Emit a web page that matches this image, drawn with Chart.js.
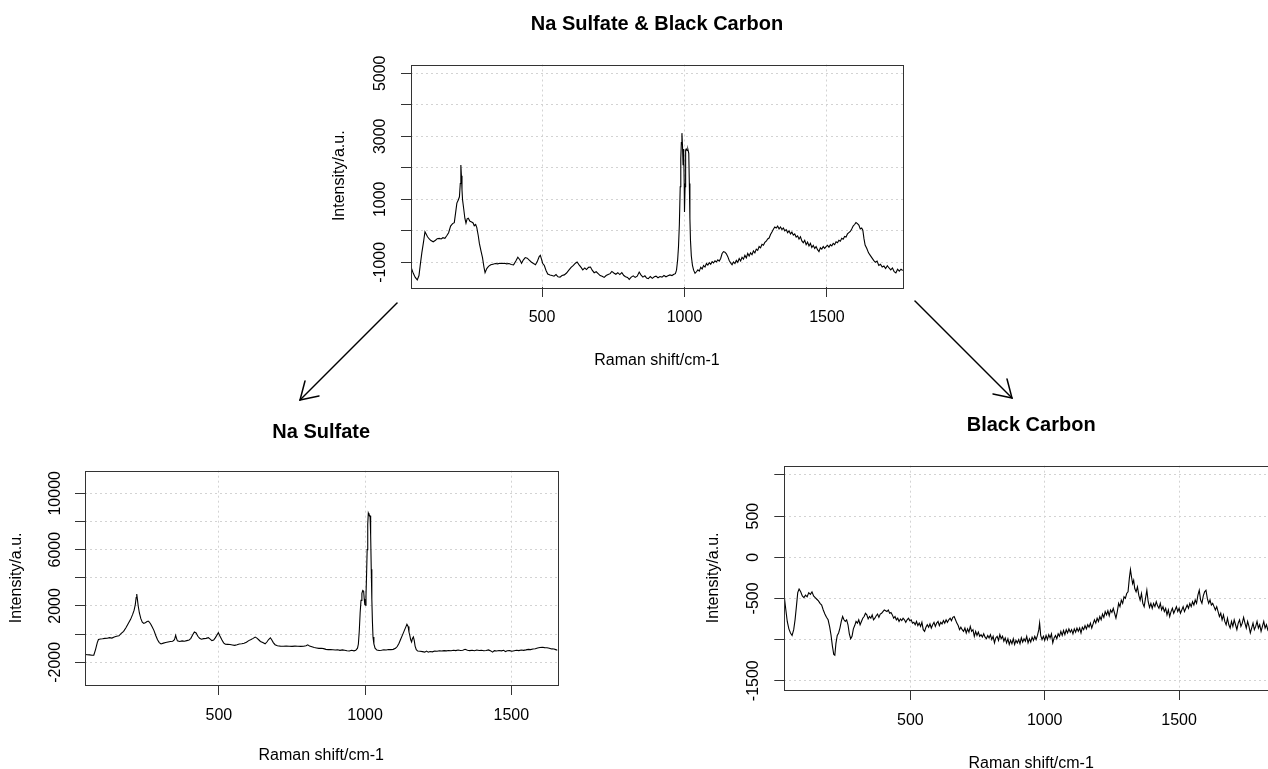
<!DOCTYPE html>
<html>
<head>
<meta charset="utf-8">
<title>Na Sulfate &amp; Black Carbon</title>
<script src="https://cdn.jsdelivr.net/npm/chart.js@4.4.1/dist/chart.umd.min.js"></script>
<style>
  html, body { margin: 0; padding: 0; background: #fff; width: 1268px; height: 769px; overflow: hidden; }
  canvas { position: absolute; }
  #arrows { position: absolute; left: 0; top: 0; }
</style>
</head>
<body>
<canvas id="mix" width="600" height="370" style="left:320px; top:0px"></canvas>
<canvas id="sulfate" width="575" height="365" style="left:0px; top:400px"></canvas>
<canvas id="carbon" width="605" height="383" style="left:690px; top:390px"></canvas>
<svg id="arrows" width="1268" height="769">
  <g stroke="#000" stroke-width="1.5" fill="none" stroke-linecap="round">
    <line x1="397" y1="303" x2="300" y2="400"/>
    <polyline points="305,381 300,400 319,396"/>
    <line x1="915" y1="301" x2="1012" y2="398"/>
    <polyline points="1007,379 1012,398 993,394"/>
  </g>
</svg>
<script>
// spectra: [Raman shift, intensity]
var mixSpectrum = [
  [40,-1150],[48,-1350],[55,-1480],[62,-1560],[68,-1420],[73,-1050],[78,-700],[84,-350],[89,-30],[94,-120],
  [98,-190],[104,-260],[110,-310],[118,-350],[126,-300],[132,-250],[139,-240],[146,-260],[152,-220],[159,-240],
  [166,-150],[172,-60],[179,150],[186,230],[192,260],[197,600],[201,880],[206,980],[210,1080],[213,1500],
  [215,2090],[217,1750],[219,1300],[221,980],[225,700],[229,400],[233,240],[237,380],[241,400],[247,300],
  [253,280],[258,250],[262,160],[267,200],[271,100],[276,-150],[280,-400],[286,-650],[291,-850],[296,-1150],
  [300,-1330],[306,-1200],[312,-1130],[320,-1080],[328,-1060],[336,-1040],[344,-1050],[352,-1030],[360,-1040],[368,-1030],
  [376,-1050],[384,-1040],[392,-1070],[400,-1080],[408,-960],[415,-840],[422,-920],[428,-1030],[434,-930],[441,-850],
  [448,-870],[455,-930],[462,-990],[470,-1040],[477,-1080],[484,-960],[490,-820],[494,-780],[498,-900],[502,-1030],
  [508,-1100],[514,-1260],[520,-1370],[528,-1400],[535,-1420],[542,-1440],[549,-1390],[556,-1460],[563,-1470],[570,-1420],
  [578,-1400],[586,-1340],[594,-1250],[602,-1160],[610,-1100],[617,-1030],[623,-990],[630,-1080],[637,-1160],[643,-1240],
  [650,-1180],[656,-1230],[663,-1160],[670,-1150],[676,-1250],[683,-1330],[690,-1300],[697,-1360],[704,-1420],[711,-1440],
  [718,-1480],[725,-1420],[732,-1390],[739,-1360],[745,-1290],[752,-1340],[759,-1380],[766,-1330],[773,-1390],[780,-1330],
  [787,-1420],[793,-1460],[800,-1480],[806,-1540],[813,-1470],[820,-1430],[827,-1480],[834,-1440],[841,-1310],[847,-1400],
  [854,-1470],[861,-1430],[867,-1500],[873,-1520],[880,-1450],[887,-1510],[894,-1460],[900,-1440],[907,-1490],[914,-1450],
  [921,-1470],[928,-1420],[935,-1460],[942,-1430],[949,-1400],[956,-1420],[963,-1380],[968,-1360],[972,-1250],[976,-920],
  [979,-500],[982,200],[985,1400],[987,2300],[989,2800],[991,3100],[993,2700],[995,2100],[997,2600],[999,1500],
  [1000,600],[1002,1400],[1004,2560],[1006,2600],[1009,2550],[1012,2580],[1015,2460],[1017,1500],[1019,400],[1021,-300],
  [1024,-800],[1028,-1100],[1032,-1250],[1037,-1350],[1042,-1300],[1047,-1240],[1052,-1280],[1057,-1160],[1062,-1210],[1067,-1100],
  [1072,-1150],[1077,-1040],[1082,-1090],[1087,-1010],[1092,-1060],[1097,-980],[1102,-1020],[1107,-950],[1112,-990],[1117,-920],
  [1122,-960],[1127,-880],[1132,-720],[1137,-660],[1142,-680],[1147,-730],[1152,-820],[1157,-940],[1162,-1020],[1167,-1080],
  [1172,-990],[1177,-1040],[1182,-940],[1187,-1000],[1192,-880],[1197,-960],[1202,-840],[1207,-900],[1212,-780],[1217,-860],
  [1222,-720],[1227,-800],[1232,-700],[1237,-760],[1242,-640],[1247,-700],[1252,-580],[1257,-620],[1262,-500],[1267,-540],
  [1272,-430],[1277,-460],[1282,-370],[1287,-330],[1292,-260],[1297,-230],[1302,-120],[1307,-40],[1312,50],[1317,120],
  [1322,90],[1327,150],[1332,60],[1337,120],[1342,40],[1347,90],[1352,0],[1357,40],[1362,-60],[1367,0],
  [1372,-100],[1377,-40],[1382,-140],[1387,-100],[1392,-200],[1397,-160],[1402,-260],[1407,-190],[1412,-320],[1417,-380],
  [1422,-300],[1427,-440],[1432,-360],[1437,-480],[1442,-400],[1447,-530],[1452,-460],[1457,-560],[1462,-500],[1467,-600],
  [1472,-660],[1477,-540],[1482,-580],[1487,-500],[1492,-560],[1497,-500],[1502,-460],[1507,-520],[1512,-440],[1517,-480],
  [1522,-400],[1527,-440],[1532,-350],[1537,-380],[1542,-300],[1547,-330],[1552,-240],[1557,-270],[1562,-180],[1567,-200],
  [1572,-100],[1577,-60],[1582,-20],[1587,60],[1592,150],[1597,200],[1602,260],[1607,230],[1612,180],[1617,60],
  [1622,90],[1626,20],[1630,-250],[1634,-450],[1640,-560],[1646,-700],[1652,-780],[1658,-860],[1664,-940],[1670,-1000],
  [1676,-960],[1682,-1100],[1688,-1060],[1694,-1150],[1700,-1120],[1706,-1200],[1712,-1110],[1718,-1180],[1724,-1240],[1730,-1180],
  [1736,-1300],[1742,-1340],[1748,-1220],[1754,-1280],[1760,-1220],[1766,-1260]
];

var sulfateSpectrum = [
  [42,-1450],[50,-1460],[58,-1470],[66,-1500],[72,-1490],[78,-1100],[84,-600],[88,-380],[95,-350],[102,-330],
  [110,-300],[118,-290],[126,-250],[134,-280],[142,-200],[150,-150],[158,-120],[166,50],[174,200],[182,450],
  [190,750],[198,1050],[205,1400],[210,1700],[214,2100],[217,2600],[219,2850],[221,2500],[224,2000],[228,1500],
  [233,1100],[238,850],[243,760],[248,800],[253,880],[258,930],[262,860],[267,700],[272,500],[278,250],
  [284,-100],[290,-400],[296,-600],[302,-700],[310,-640],[318,-600],[326,-560],[334,-520],[342,-500],[348,-400],
  [352,-80],[355,-300],[358,-480],[366,-520],[374,-480],[382,-500],[390,-460],[398,-420],[404,-300],[410,-60],
  [416,150],[422,80],[428,-150],[434,-300],[440,-360],[448,-320],[456,-300],[464,-250],[470,-350],[476,-460],
  [482,-420],[488,-250],[494,-40],[498,100],[503,-120],[510,-400],[516,-620],[522,-720],[530,-730],[538,-740],
  [546,-770],[554,-800],[562,-760],[570,-700],[578,-680],[586,-650],[594,-580],[602,-460],[610,-380],[617,-300],
  [624,-210],[630,-280],[636,-400],[642,-520],[650,-600],[658,-690],[664,-560],[670,-380],[676,-260],[681,-420],
  [686,-600],[692,-750],[700,-820],[710,-850],[720,-860],[730,-850],[740,-860],[750,-870],[760,-850],[770,-860],
  [780,-870],[790,-860],[798,-830],[804,-760],[810,-850],[818,-900],[826,-950],[834,-980],[842,-1010],[850,-1000],
  [858,-1030],[866,-1080],[874,-1100],[882,-1090],[890,-1110],[898,-1130],[906,-1110],[914,-1150],[922,-1120],[930,-1140],
  [938,-1180],[946,-1200],[954,-1150],[962,-1190],[968,-1150],[974,-1000],[977,-700],[980,200],[983,1500],[986,2400],
  [989,2900],[992,3100],[995,3050],[997,2500],[999,2100],[1001,2050],[1003,2700],[1005,4200],[1007,6000],[1009,7800],
  [1011,8600],[1013,8500],[1015,8450],[1017,8400],[1019,7000],[1021,4600],[1023,2500],[1025,900],[1027,-200],[1030,-700],
  [1034,-1000],[1040,-1130],[1048,-1160],[1056,-1150],[1064,-1110],[1072,-1130],[1080,-1090],[1088,-1100],[1096,-1080],[1104,-1000],
  [1110,-880],[1116,-650],[1122,-350],[1128,-50],[1134,250],[1139,500],[1143,700],[1147,550],[1150,150],[1153,-100],
  [1156,-400],[1159,-550],[1162,-300],[1165,-200],[1168,-450],[1171,-850],[1175,-1100],[1180,-1200],[1188,-1210],[1196,-1240],
  [1204,-1280],[1210,-1200],[1216,-1280],[1222,-1230],[1230,-1260],[1238,-1200],[1246,-1220],[1254,-1180],[1262,-1200],[1270,-1170],
  [1278,-1190],[1286,-1160],[1294,-1180],[1302,-1150],[1310,-1170],[1318,-1130],[1326,-1160],[1334,-1140],[1342,-1080],[1350,-1150],
  [1358,-1170],[1366,-1140],[1374,-1180],[1382,-1130],[1390,-1160],[1398,-1140],[1406,-1180],[1414,-1160],[1422,-1120],[1430,-1190],
  [1436,-1280],[1442,-1170],[1450,-1200],[1458,-1160],[1466,-1190],[1474,-1150],[1480,-1240],[1486,-1180],[1494,-1170],[1502,-1210],
  [1510,-1180],[1518,-1150],[1526,-1170],[1534,-1130],[1542,-1150],[1550,-1120],[1558,-1080],[1566,-1100],[1574,-1060],[1582,-1040],
  [1590,-980],[1598,-950],[1606,-930],[1614,-960],[1622,-970],[1630,-1000],[1638,-1050],[1646,-1060],[1652,-1100],[1658,-1140]
];

var carbonSpectrum = [
  [31,-480],[36,-620],[42,-780],[48,-870],[54,-920],[60,-950],[66,-880],[71,-760],[76,-600],[81,-430],
  [86,-385],[92,-420],[98,-470],[104,-490],[110,-460],[116,-480],[122,-430],[128,-450],[134,-420],[140,-470],
  [146,-490],[152,-510],[158,-530],[164,-560],[170,-580],[176,-640],[182,-690],[188,-730],[194,-760],[200,-850],
  [205,-950],[210,-1080],[215,-1180],[219,-1190],[223,-1050],[228,-950],[233,-920],[238,-860],[243,-780],[248,-720],
  [253,-760],[258,-780],[263,-760],[268,-820],[273,-930],[278,-990],[283,-960],[288,-870],[293,-830],[298,-780],
  [303,-800],[308,-760],[313,-820],[318,-780],[323,-740],[328,-720],[333,-680],[338,-700],[343,-750],[348,-720],
  [353,-740],[358,-700],[363,-760],[368,-740],[373,-710],[378,-690],[383,-730],[388,-690],[393,-680],[398,-660],
  [403,-640],[408,-650],[413,-660],[418,-640],[423,-680],[428,-670],[433,-700],[438,-740],[443,-720],[448,-760],
  [453,-740],[458,-780],[463,-750],[468,-770],[473,-740],[478,-760],[483,-790],[488,-760],[493,-740],[498,-770],
  [503,-760],[508,-800],[513,-790],[518,-820],[523,-780],[528,-830],[533,-800],[538,-840],[543,-790],[548,-880],
  [553,-900],[558,-850],[563,-820],[568,-850],[573,-810],[578,-860],[583,-820],[588,-790],[593,-840],[598,-800],
  [603,-780],[608,-830],[613,-790],[618,-810],[623,-770],[628,-800],[633,-760],[638,-790],[643,-760],[648,-740],
  [653,-770],[658,-730],[663,-720],[668,-760],[673,-800],[678,-830],[683,-880],[688,-850],[693,-880],[698,-900],
  [703,-860],[708,-920],[713,-870],[718,-910],[723,-840],[728,-900],[733,-880],[738,-960],[743,-900],[748,-950],
  [753,-910],[758,-960],[763,-940],[768,-970],[773,-930],[778,-970],[783,-990],[788,-950],[793,-980],[798,-940],
  [803,-1000],[808,-960],[813,-1040],[818,-980],[823,-960],[828,-1010],[833,-940],[838,-990],[843,-960],[848,-1020],
  [853,-980],[858,-1040],[863,-990],[868,-1060],[873,-1010],[878,-1050],[883,-990],[888,-1060],[893,-1010],[898,-1040],
  [903,-1000],[908,-1050],[913,-980],[918,-1030],[923,-990],[928,-1020],[933,-960],[938,-1040],[943,-990],[948,-1030],
  [953,-970],[958,-1010],[963,-960],[968,-1000],[973,-950],[978,-880],[981,-800],[985,-950],[990,-1000],[995,-960],
  [1000,-1010],[1005,-950],[1010,-1000],[1015,-940],[1020,-980],[1025,-930],[1030,-1040],[1035,-980],[1040,-950],[1045,-990],
  [1050,-930],[1055,-960],[1060,-900],[1065,-950],[1070,-890],[1075,-940],[1080,-880],[1085,-920],[1090,-870],[1095,-910],
  [1100,-880],[1105,-930],[1110,-870],[1115,-910],[1120,-860],[1125,-900],[1130,-860],[1135,-920],[1140,-850],[1145,-880],
  [1150,-830],[1155,-870],[1160,-820],[1165,-850],[1170,-800],[1175,-860],[1180,-810],[1185,-760],[1190,-800],[1195,-740],
  [1200,-780],[1205,-720],[1210,-760],[1215,-690],[1220,-730],[1225,-660],[1230,-700],[1235,-650],[1240,-710],[1245,-640],
  [1250,-670],[1255,-620],[1260,-680],[1265,-740],[1270,-660],[1275,-560],[1280,-600],[1285,-520],[1290,-560],[1295,-480],
  [1300,-500],[1305,-440],[1310,-420],[1315,-250],[1319,-150],[1323,-240],[1327,-320],[1331,-280],[1335,-380],[1340,-420],
  [1345,-360],[1350,-460],[1355,-520],[1360,-440],[1365,-560],[1370,-600],[1375,-500],[1380,-400],[1385,-540],[1390,-610],
  [1395,-560],[1400,-620],[1405,-560],[1410,-600],[1415,-540],[1420,-590],[1425,-620],[1430,-560],[1435,-640],[1440,-600],
  [1445,-660],[1450,-620],[1455,-700],[1460,-640],[1465,-720],[1470,-660],[1475,-620],[1480,-680],[1485,-640],[1490,-600],
  [1495,-660],[1500,-620],[1505,-680],[1510,-640],[1515,-600],[1520,-660],[1525,-620],[1530,-580],[1535,-620],[1540,-560],
  [1545,-600],[1550,-540],[1555,-580],[1560,-520],[1565,-560],[1570,-460],[1575,-400],[1580,-520],[1585,-560],[1590,-470],
  [1595,-420],[1600,-400],[1605,-500],[1610,-560],[1615,-520],[1620,-580],[1625,-560],[1630,-600],[1635,-640],[1640,-600],
  [1645,-660],[1650,-720],[1655,-680],[1660,-760],[1665,-700],[1670,-780],[1675,-820],[1680,-740],[1685,-820],[1690,-860],
  [1695,-780],[1700,-840],[1705,-760],[1710,-820],[1715,-880],[1720,-800],[1725,-760],[1730,-840],[1735,-800],[1740,-730],
  [1745,-800],[1750,-860],[1755,-780],[1760,-840],[1765,-920],[1770,-860],[1775,-800],[1780,-880],[1785,-840],[1790,-780],
  [1795,-860],[1800,-820],[1805,-900],[1810,-840],[1815,-780],[1820,-860],[1825,-820],[1830,-880],[1835,-840],[1840,-800],
  [1845,-860],[1850,-820],[1855,-880],[1860,-840],[1866,-860]
];

// tick positions and the labels R printed (ticks not listed in *Labels stay unlabelled)
var shiftTicks = [500, 1000, 1500];
var shiftLabels = [500, 1000, 1500];
var mixTicks = [-1000, 0, 1000, 2000, 3000, 4000, 5000];
var mixLabels = [-1000, 1000, 3000, 5000];
var sulfateTicks = [-2000, 0, 2000, 4000, 6000, 8000, 10000];
var sulfateLabels = [-2000, 2000, 6000, 10000];
var carbonTicks = [-1500, -1000, -500, 0, 500, 1000];
var carbonLabels = [-1500, -500, 0, 500];

var fontFamily = "'Liberation Sans', Arial, Helvetica, sans-serif";
Chart.defaults.font.family = fontFamily;
Chart.defaults.color = "#000";

// the box round the plotting region, like R's box()
var framePlugin = {
    id: "frame",
    afterDatasetsDraw: function(chart) {
        var a = chart.chartArea;
        var ctx = chart.ctx;
        ctx.save();
        ctx.strokeStyle = "#333";
        ctx.lineWidth = 1;
        ctx.strokeRect(Math.round(a.left) + 0.5, Math.round(a.top) + 0.5,
                       Math.round(a.right - a.left), Math.round(a.bottom - a.top));
        ctx.restore();
    }
};

function fixedTicks(values) {
    return function(scale) {
        scale.ticks = values.map(function(v) { return { value: v }; });
    };
}

function spectrumChart(id, points, o) {
    return new Chart(document.getElementById(id), {
        type: "line",
        data: {
            datasets: [{
                data: points.map(function(p) { return { x: p[0], y: p[1] }; }),
                borderColor: "#000",
                borderWidth: 1.1,
                pointRadius: 0,
                tension: 0,
                fill: false
            }]
        },
        options: {
            responsive: false,
            animation: false,
            events: [],
            layout: { padding: { left: 0, top: 0, bottom: 0, right: o.padRight } },
            plugins: {
                legend: { display: false },
                tooltip: { enabled: false },
                title: {
                    display: true,
                    text: o.title,
                    fullSize: false,
                    color: "#000",
                    font: { family: fontFamily, size: 20, weight: "bold" },
                    padding: { top: o.titleTop, bottom: o.titleBottom }
                }
            },
            scales: {
                x: {
                    type: "linear",
                    min: o.xMin,
                    max: o.xMax,
                    afterBuildTicks: fixedTicks(shiftTicks),
                    afterFit: function(s) { s.height = o.xHeight; },
                    ticks: {
                        autoSkip: false,
                        maxRotation: 0,
                        color: "#000",
                        font: { size: 16 },
                        padding: 11.4,
                        callback: function(v) { return shiftLabels.indexOf(v) >= 0 ? String(v) : ""; }
                    },
                    grid: { color: "#d3d3d3", lineWidth: 1, tickLength: 10, tickColor: "#333", tickWidth: 1, tickBorderDash: [] },
                    border: { display: false, dash: [2, 3] },
                    title: { display: true, text: "Raman shift/cm-1", color: "#000", font: { size: 16 }, padding: { top: 0, bottom: 0 } }
                },
                y: {
                    type: "linear",
                    min: o.yMin,
                    max: o.yMax,
                    afterBuildTicks: fixedTicks(o.yTicks),
                    afterFit: function(s) { s.width = o.yWidth; },
                    ticks: {
                        autoSkip: false,
                        minRotation: 90,
                        maxRotation: 90,
                        crossAlign: "center",
                        color: "#000",
                        font: { size: 16 },
                        padding: o.yTickPad,
                        callback: function(v) { return o.yLabels.indexOf(v) >= 0 ? String(v) : ""; }
                    },
                    grid: { color: "#d3d3d3", lineWidth: 1, tickLength: 10, tickColor: "#333", tickWidth: 1, tickBorderDash: [] },
                    border: { display: false, dash: [2, 3] },
                    title: { display: true, text: "Intensity/a.u.", color: "#000", font: { size: 16 }, padding: { top: o.yTitlePad, bottom: 0 } }
                }
            }
        },
        plugins: [framePlugin]
    });
}

spectrumChart("mix", mixSpectrum, {
    title: "Na Sulfate & Black Carbon",
    xMin: 40, xMax: 1767, yMin: -1784, yMax: 5279, yTicks: mixTicks, yLabels: mixLabels,
    padRight: 17, xHeight: 83, yWidth: 91, titleTop: 12, titleBottom: 28.5, yTitlePad: 10.4, yTickPad: 0
});

spectrumChart("sulfate", sulfateSpectrum, {
    title: "Na Sulfate",
    xMin: 42, xMax: 1658, yMin: -3612, yMax: 11605, yTicks: sulfateTicks, yLabels: sulfateLabels,
    padRight: 17.5, xHeight: 80, yWidth: 85, titleTop: 20, titleBottom: 26.7, yTitlePad: 7.1, yTickPad: -3
});

spectrumChart("carbon", carbonSpectrum, {
    title: "Black Carbon",
    xMin: 31, xMax: 1868, yMin: -1613, yMax: 1113, yTicks: carbonTicks, yLabels: carbonLabels,
    padRight: 17, xHeight: 83, yWidth: 94.3, titleTop: 23, titleBottom: 28.7, yTitlePad: 13.7, yTickPad: 0.5
});
</script>
</body>
</html>
